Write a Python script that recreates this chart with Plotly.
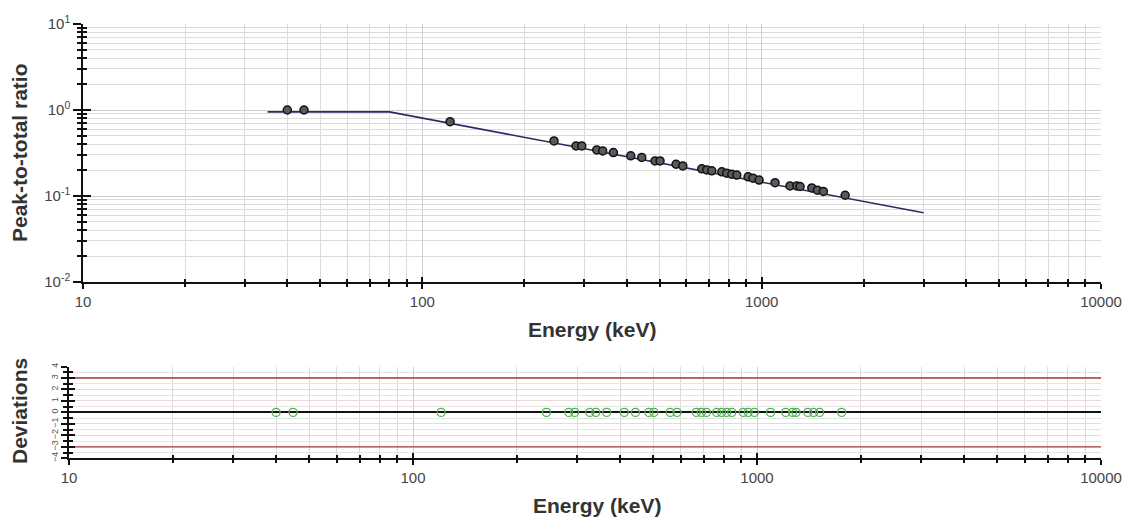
import numpy as np
import plotly.graph_objects as go

# ---- data ----
energy_keV = [40, 44.8, 120.7, 244.4, 283.8, 295, 326.6, 340, 365.6, 411.3, 443.2,
              485, 501.8, 559.4, 585.6, 666, 689, 712.8, 763, 789, 816.6, 844.7,
              912, 943, 982.7, 1095, 1212, 1269, 1298, 1405, 1460, 1520, 1762]
peak_to_total = [1.0, 1.0, 0.732, 0.437, 0.382, 0.382, 0.343, 0.334, 0.320, 0.293, 0.281,
                 0.256, 0.256, 0.234, 0.224, 0.207, 0.201, 0.196, 0.191, 0.184, 0.179, 0.175,
                 0.167, 0.161, 0.153, 0.143, 0.131, 0.131, 0.129, 0.124, 0.117, 0.113, 0.102]
deviations = [0.0] * len(energy_keV)

fit_energy = [35, 80, 3000]
fit_ratio = [0.95, 0.95, 0.064]

limit_energy = [10, 10000]
upper_limit = [3, 3]
lower_limit = [-3, -3]

x_decades = [10, 100, 1000, 10000]
x_labels = ["10", "100", "1000", "10000"]
y_decades = [0.01, 0.1, 1, 10]
y_labels = ["10<sup>-2</sup>", "10<sup>-1</sup>", "10<sup>0</sup>", "10<sup>1</sup>"]
dev_ticks = [-4, -3, -2, -1, 0, 1, 2, 3, 4]

# minor tick positions (digits 2..9 in each decade)
x_minor = [d * k for d in x_decades[:-1] for k in range(2, 10)]
y_minor = [d * k for d in y_decades[:-1] for k in range(2, 10)]
dev_minor = list(np.arange(-4, 4.01, 0.5))

# the page body has an 8px margin: the figure starts at screen (8, 8)
OFF = 8
W, H = 1136 - OFF, 524 - OFF
def px(x0, x1):
    return [(x0 - OFF) / W, (x1 - OFF) / W]
def py(ytop, ybot):
    return [(H - (ybot - OFF)) / H, (H - (ytop - OFF)) / H]
def sx(x):
    return (x - OFF) / W
def sy(y):
    return (H - (y - OFF)) / H

FONT = "Liberation Sans, Arial, sans-serif"
GRID = "#dcdcdc"
TICKF = dict(family=FONT, size=15, color="#444")

fig = go.Figure()

fig.add_trace(go.Scatter(x=fit_energy, y=fit_ratio, mode="lines",
                         line=dict(color="#2b2b66", width=1.6),
                         xaxis="x", yaxis="y", showlegend=False))
fig.add_trace(go.Scatter(x=energy_keV, y=peak_to_total, mode="markers",
                         marker=dict(symbol="circle", size=8, color="#5a5a5a",
                                     line=dict(color="#111", width=1.5)),
                         xaxis="x", yaxis="y", showlegend=False))
# overlay (inner ticks) for top
fig.add_trace(go.Scatter(x=[100], y=[1], mode="markers", marker=dict(opacity=0),
                         hoverinfo="skip", xaxis="x3", yaxis="y3", showlegend=False))

# bottom panel
fig.add_trace(go.Scatter(x=limit_energy, y=upper_limit, mode="lines",
                         line=dict(color="#a83a3a", width=1.4),
                         xaxis="x2", yaxis="y2", showlegend=False))
fig.add_trace(go.Scatter(x=limit_energy, y=lower_limit, mode="lines",
                         line=dict(color="#a83a3a", width=1.4),
                         xaxis="x2", yaxis="y2", showlegend=False))
fig.add_trace(go.Scatter(x=energy_keV, y=deviations, mode="markers",
                         marker=dict(symbol="circle-open", size=8, color="#55b055",
                                     line=dict(width=1.3)),
                         xaxis="x2", yaxis="y2", showlegend=False))
fig.add_trace(go.Scatter(x=[100], y=[0], mode="markers", marker=dict(opacity=0),
                         hoverinfo="skip", xaxis="x4", yaxis="y4", showlegend=False))

def xaxis_cfg(domain, anchor, labels=True, inner=False):
    d = dict(type="log", range=[1, 4], domain=domain, anchor=anchor, automargin=False,
             tickmode="array", tickvals=x_decades,
             showticklabels=labels, tickfont=TICKF,
             ticks="inside" if inner else "outside", ticklen=5, tickwidth=1.5,
             tickcolor="#111", showline=not inner, linecolor="#111", linewidth=1.5,
             showgrid=not inner, gridcolor="#cfcfcf", gridwidth=1, zeroline=False,
             minor=dict(tickmode="array", tickvals=x_minor,
                        ticks="inside" if inner else "outside", ticklen=3,
                        tickwidth=1.5, tickcolor="#111",
                        showgrid=not inner, gridcolor=GRID, gridwidth=1),
             fixedrange=True)
    if labels:
        d["ticktext"] = x_labels
    return d

layout = dict(
    width=W, height=H, paper_bgcolor="white", plot_bgcolor="white",
    margin=dict(l=0, r=0, t=0, b=0), showlegend=False,
    font=dict(family=FONT),
)
layout["xaxis"] = xaxis_cfg(px(83, 1101), "y")
layout["xaxis3"] = dict(xaxis_cfg(px(83, 1101), "y3", labels=False, inner=True), overlaying="x")
layout["yaxis"] = dict(type="log", range=[-2, 1], domain=py(24, 282), anchor="x",
                       automargin=False,
                       tickmode="array", tickvals=y_decades, ticktext=y_labels,
                       tickfont=TICKF, ticks="outside", ticklen=8, tickwidth=1.5,
                       tickcolor="#111", showline=True, linecolor="#111", linewidth=1.5,
                       showgrid=True, gridcolor="#cfcfcf", zeroline=False,
                       minor=dict(tickmode="array", tickvals=y_minor, ticks="outside",
                                  ticklen=4, tickwidth=1.5, tickcolor="#111",
                                  showgrid=True, gridcolor=GRID),
                       fixedrange=True)
layout["yaxis3"] = dict(type="log", range=[-2, 1], anchor="x3", overlaying="y",
                        automargin=False,
                        tickmode="array", tickvals=y_decades, showticklabels=False,
                        ticks="inside", ticklen=8, tickwidth=1.5, tickcolor="#111",
                        showline=False, showgrid=False, zeroline=False,
                        minor=dict(tickmode="array", tickvals=y_minor, ticks="inside",
                                   ticklen=4, tickwidth=1.5, tickcolor="#111",
                                   showgrid=False),
                        fixedrange=True)

layout["xaxis2"] = xaxis_cfg(px(69, 1101), "y2")
layout["xaxis4"] = dict(xaxis_cfg(px(69, 1101), "y4", labels=False, inner=True), overlaying="x2")
layout["yaxis2"] = dict(range=[-4, 4], domain=py(366.5, 458.3), anchor="x2",
                        automargin=False,
                        tickmode="array", tickvals=dev_ticks,
                        tickfont=dict(family=FONT, size=9, color="#555"), tickangle=-90,
                        ticks="outside", ticklen=6, tickwidth=1.5, tickcolor="#111",
                        showline=True, linecolor="#111", linewidth=1.5,
                        showgrid=True, gridcolor="#ead8d8",
                        zeroline=True, zerolinecolor="#111", zerolinewidth=1.6,
                        minor=dict(tickmode="array", tickvals=dev_minor, ticks="outside",
                                   ticklen=4, tickwidth=1.5, tickcolor="#111",
                                   showgrid=True, gridcolor="#e4e4e4"),
                        fixedrange=True)
layout["yaxis4"] = dict(range=[-4, 4], anchor="x4", overlaying="y2",
                        automargin=False,
                        tickmode="array", tickvals=dev_ticks, showticklabels=False,
                        ticks="inside", ticklen=6, tickwidth=1.5, tickcolor="#111",
                        showline=False, showgrid=False, zeroline=False,
                        minor=dict(tickmode="array", tickvals=dev_minor, ticks="inside",
                                   ticklen=4, tickwidth=1.5, tickcolor="#111",
                                   showgrid=False),
                        fixedrange=True)

TITLEF = dict(family=FONT, size=21, color="#333")
layout["annotations"] = [
    dict(text="<b>Energy (keV)</b>", x=sx(592), y=sy(329), xref="paper", yref="paper",
         xanchor="center", yanchor="middle", showarrow=False, font=TITLEF),
    dict(text="<b>Energy (keV)</b>", x=sx(597), y=sy(505), xref="paper", yref="paper",
         xanchor="center", yanchor="middle", showarrow=False, font=TITLEF),
    dict(text="<b>Peak-to-total ratio</b>", x=sx(19), y=sy(153), xref="paper",
         yref="paper", xanchor="center", yanchor="middle", textangle=-90,
         showarrow=False, font=TITLEF),
    dict(text="<b>Deviations</b>", x=sx(19), y=sy(411), xref="paper",
         yref="paper", xanchor="center", yanchor="middle", textangle=-90,
         showarrow=False, font=TITLEF),
]
layout["shapes"] = [
    dict(type="line", xref="paper", yref="paper", x0=sx(1131.5), x1=sx(1131.5),
         y0=0, y1=1, line=dict(color="#d0d0d0", width=1)),
]

fig.update_layout(**layout)
fig.write_html("out.html")
